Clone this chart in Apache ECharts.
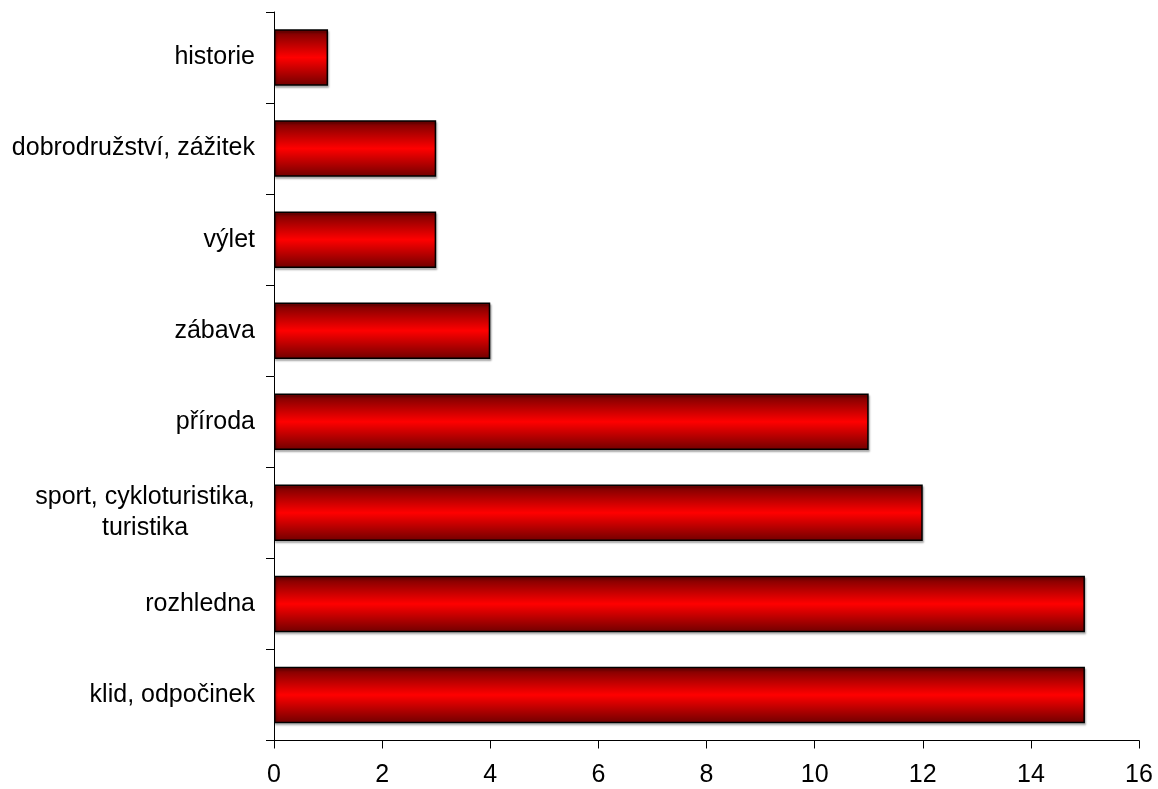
<!DOCTYPE html>
<html>
<head>
<meta charset="utf-8">
<script src="https://cdn.jsdelivr.net/npm/echarts@6/dist/echarts.min.js"></script>
<style>html,body{margin:0;padding:0;background:#fff;}#c{width:1158px;height:789px;}</style>
</head>
<body>
<div id="c"></div>
<script>
const categories = ['klid, odpočinek', 'rozhledna', 'sport, cykloturistika,\nturistika', 'příroda', 'zábava', 'výlet', 'dobrodružství, zážitek', 'historie'];
const values = [15, 15, 12, 11, 4, 3, 3, 1];
const xTicks = [0, 2, 4, 6, 8, 10, 12, 14, 16];

const chart = echarts.init(document.getElementById('c'));
chart.setOption({
  animation: false,
  backgroundColor: '#fff',
  grid: { left: 274, right: 19, top: 12, bottom: 48.5 },
  xAxis: {
    type: 'value', min: xTicks[0], max: xTicks[xTicks.length - 1], interval: 2,
    axisLine: { show: true, lineStyle: { color: '#000', width: 1 } },
    axisTick: { show: true, length: 8, lineStyle: { color: '#000' } },
    splitLine: { show: false },
    axisLabel: { color: '#000', fontFamily: 'Liberation Sans, Arial', fontSize: 25, margin: 22 }
  },
  yAxis: {
    type: 'category', data: categories,
    axisLine: { show: true, lineStyle: { color: '#000', width: 1 } },
    axisTick: { show: true, length: 8, inside: false, lineStyle: { color: '#000' } },
    axisLabel: {
      color: '#000', fontFamily: 'Liberation Sans, Arial', fontSize: 25, margin: 19, lineHeight: 31, align: 'right',
      formatter: function (v) {
        if (v.indexOf('\n') >= 0) {
          return v.split('\n').map(function (s) { return '{m|' + s + '}'; }).join('\n');
        }
        return v;
      },
      rich: { m: { width: 220, align: 'center', fontSize: 25, lineHeight: 31, fontFamily: 'Liberation Sans, Arial', color: '#000' } }
    }
  },
  series: [{
    type: 'bar', data: values, barCategoryGap: '38%',
    itemStyle: {
      borderColor: '#000', borderWidth: 1.5,
      color: { type: 'linear', x: 0, y: 0, x2: 0, y2: 1, colorStops: [
        { offset: 0, color: '#700000' }, { offset: 0.5, color: '#ff0000' }, { offset: 1, color: '#700000' }
      ] },
      shadowColor: 'rgba(0,0,0,0.3)', shadowOffsetX: 1, shadowOffsetY: 2, shadowBlur: 2
    }
  }]
});
</script>
</body>
</html>
